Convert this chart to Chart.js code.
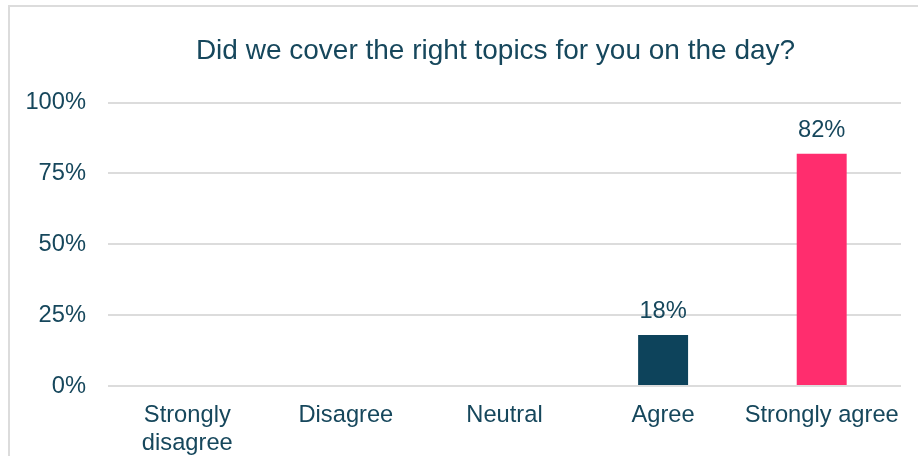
<!DOCTYPE html>
<html>
<head>
<meta charset="utf-8">
<script src="https://cdn.jsdelivr.net/npm/chart.js@4"></script>
<style>
  html, body { margin: 0; padding: 0; background: #fff; overflow: hidden; width: 918px; height: 456px; }
  #frame { position: absolute; left: 8px; top: 5px; width: 1000px; height: 520px;
           border: 2px solid #dcdcdc; box-sizing: border-box; background: #fff; }
  #wrap { position: absolute; left: 0; top: 0; width: 971px; height: 480px; }
</style>
</head>
<body>
<div id="frame"><div id="wrap"><canvas id="c"></canvas></div></div>
<script>
const chartTitle = "Did we cover the right topics for you on the day?";
const categories = [["Strongly", "disagree"], "Disagree", "Neutral", "Agree", "Strongly agree"];
const values = [0, 0, 0, 18, 82];
const barColors = ["#0D435B", "#0D435B", "#0D435B", "#0D435B", "#FF2D6E"];
const yTicks = [0, 25, 50, 75, 100];

const textColor = "#16475C";
const fontFamily = "'Liberation Sans', Arial, sans-serif";
const tickSize = 23.7;

const valueLabels = {
  id: 'valueLabels',
  afterDatasetsDraw(chart) {
    const ctx = chart.ctx;
    const meta = chart.getDatasetMeta(0);
    ctx.save();
    ctx.font = tickSize + "px " + fontFamily;
    ctx.fillStyle = textColor;
    ctx.textAlign = 'center';
    ctx.textBaseline = 'alphabetic';
    meta.data.forEach((bar, i) => {
      const v = values[i];
      if (v > 0) ctx.fillText(v + '%', bar.x, bar.y - 17);
    });
    ctx.restore();
  }
};

new Chart(document.getElementById('c'), {
  type: 'bar',
  data: {
    labels: categories,
    datasets: [{
      data: values,
      backgroundColor: barColors,
      borderWidth: 0,
      categoryPercentage: 1,
      barPercentage: 0.315
    }]
  },
  options: {
    responsive: true,
    maintainAspectRatio: false,
    animation: false,
    layout: { padding: { left: 0, right: 0, top: 27, bottom: 14 } },
    plugins: {
      legend: { display: false },
      tooltip: { enabled: false },
      title: {
        display: true,
        text: chartTitle,
        color: textColor,
        font: { family: fontFamily, size: 28, weight: 'normal' },
        padding: { top: 0, bottom: 35 }
      }
    },
    scales: {
      x: {
        grid: { display: false, drawTicks: false },
        border: { display: false },
        ticks: {
          color: textColor,
          font: { family: fontFamily, size: tickSize },
          padding: 15,
          maxRotation: 0,
          autoSkip: false
        }
      },
      y: {
        min: 0,
        max: 100,
        afterBuildTicks(scale) { scale.ticks = yTicks.map(v => ({ value: v })); },
        afterFit(scale) { scale.width = 98; },
        grid: { color: '#dcdcdc', lineWidth: 2, drawTicks: false },
        border: { display: false },
        ticks: {
          color: textColor,
          font: { family: fontFamily, size: tickSize },
          padding: 22,
          callback: v => v + '%'
        }
      },
      yRightSpace: {
        position: 'right',
        min: 0,
        max: 100,
        afterFit(scale) { scale.width = 80; },
        grid: { display: false, drawTicks: false },
        border: { display: false },
        ticks: { display: false }
      }
    }
  },
  plugins: [valueLabels]
});
</script>
</body>
</html>
